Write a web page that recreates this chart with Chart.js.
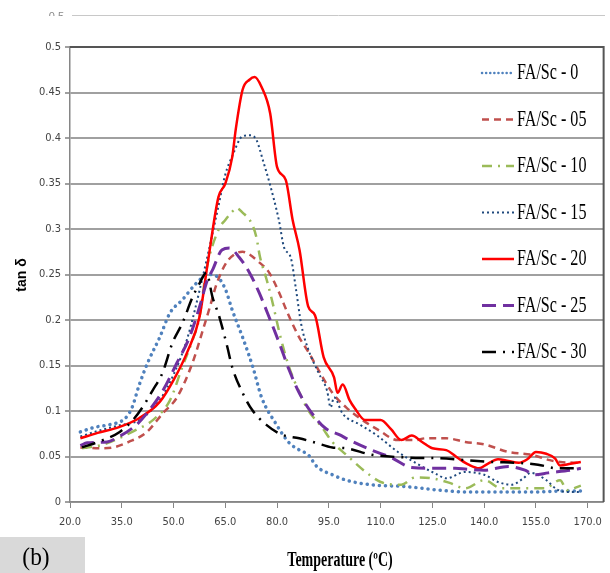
<!DOCTYPE html>
<html>
<head>
<meta charset="utf-8">
<script src="https://cdn.jsdelivr.net/npm/chart.js@4.4.1/dist/chart.umd.min.js"></script>
<style>
  html, body { margin: 0; padding: 0; background: #ffffff; }
</style>
</head>
<body>
<canvas id="dmaChart" width="610" height="573"></canvas>
<script>
// tick labels
const xTicks = [20, 35, 50, 65, 80, 95, 110, 125, 140, 155, 170];
const seriesNames = ["FA/Sc - 0", "FA/Sc - 05", "FA/Sc - 10", "FA/Sc - 15", "FA/Sc - 20", "FA/Sc - 25", "FA/Sc - 30"];

// FA/Sc - 0
const temps0 = [23, 27, 31.5, 36, 38, 40, 42.5, 46, 49, 52.5, 56.5, 60, 62.5, 65, 67, 70, 73, 75.5, 79.5, 83.5, 86.5, 89, 91.5, 96, 100, 107, 117, 127, 135, 145, 155, 162, 168];
const tan0 = [0.077, 0.082, 0.085, 0.092, 0.104, 0.128, 0.153, 0.181, 0.208, 0.222, 0.240, 0.250, 0.248, 0.234, 0.211, 0.181, 0.148, 0.115, 0.087, 0.065, 0.057, 0.052, 0.039, 0.030, 0.024, 0.019, 0.017, 0.013, 0.011, 0.011, 0.011, 0.012, 0.012];

// FA/Sc - 05
const temps05 = [23, 28.5, 32.5, 37, 42, 47, 51, 55.5, 58.5, 60.5, 62.5, 65.3, 68, 70, 72, 74, 77.7, 80.6, 83, 86.4, 89.2, 92, 96, 100, 104, 109.4, 115, 120, 123, 129, 134.5, 140.3, 147, 153.6, 159, 162, 168];
const tan05 = [0.060, 0.059, 0.060, 0.066, 0.076, 0.098, 0.115, 0.153, 0.189, 0.214, 0.240, 0.263, 0.273, 0.275, 0.272, 0.266, 0.252, 0.230, 0.208, 0.181, 0.164, 0.145, 0.120, 0.104, 0.092, 0.079, 0.068, 0.068, 0.070, 0.070, 0.066, 0.063, 0.055, 0.052, 0.046, 0.044, 0.043];

// FA/Sc - 10
const temps10 = [23.5, 29.5, 33, 39, 44, 49, 52.5, 55.5, 57.5, 59.5, 63, 65, 67, 68.2, 70, 72.5, 74, 75, 77, 78.5, 81, 83.5, 86.5, 89, 93, 96, 100, 106, 110, 116, 120, 125, 130, 134.5, 140, 145, 150, 157.5, 162, 164, 168];
const tan10 = [0.059, 0.063, 0.068, 0.079, 0.090, 0.112, 0.148, 0.178, 0.203, 0.255, 0.299, 0.310, 0.319, 0.323, 0.318, 0.307, 0.291, 0.270, 0.244, 0.222, 0.181, 0.148, 0.120, 0.101, 0.082, 0.066, 0.052, 0.032, 0.022, 0.019, 0.027, 0.026, 0.021, 0.015, 0.024, 0.015, 0.015, 0.015, 0.024, 0.013, 0.018];

// FA/Sc - 15
const temps15 = [23, 28, 34, 40, 46, 50, 54, 58, 61, 63, 65, 67, 70, 72, 74, 76, 78, 80.5, 82, 84, 85.5, 87, 89, 92, 94.5, 95.5, 96.5, 99, 104, 109, 115, 121, 126, 129, 134.5, 140, 144, 148, 151, 153.5, 158, 161, 164, 168];
const tan15 = [0.072, 0.078, 0.084, 0.090, 0.112, 0.140, 0.180, 0.240, 0.290, 0.325, 0.360, 0.380, 0.402, 0.403, 0.398, 0.374, 0.348, 0.310, 0.280, 0.268, 0.233, 0.195, 0.168, 0.142, 0.122, 0.104, 0.115, 0.097, 0.085, 0.073, 0.055, 0.041, 0.031, 0.026, 0.033, 0.030, 0.022, 0.019, 0.025, 0.032, 0.024, 0.014, 0.011, 0.011];

// FA/Sc - 20
const temps20 = [23, 28, 34, 40, 46, 50, 54, 57.5, 60, 63, 65, 67, 68, 70, 72, 73.5, 75.5, 78, 80, 82.5, 84.5, 86.5, 89, 91, 93.5, 96.5, 97.5, 99, 101, 102.5, 105.5, 110, 113, 116, 119, 122, 125, 129, 132.5, 135.5, 138.5, 141, 144, 147, 150, 152.5, 155, 158, 160.5, 162, 165, 168];
const tan20 = [0.070, 0.076, 0.082, 0.092, 0.110, 0.134, 0.165, 0.203, 0.265, 0.335, 0.350, 0.379, 0.409, 0.453, 0.464, 0.467, 0.456, 0.427, 0.368, 0.354, 0.310, 0.277, 0.215, 0.205, 0.159, 0.137, 0.120, 0.129, 0.112, 0.103, 0.090, 0.090, 0.080, 0.068, 0.073, 0.066, 0.059, 0.057, 0.048, 0.041, 0.037, 0.042, 0.047, 0.045, 0.043, 0.047, 0.055, 0.053, 0.048, 0.040, 0.042, 0.044];

// FA/Sc - 25
const temps25 = [23, 25, 30.7, 33.8, 39.3, 43, 47, 51, 54.6, 57.5, 59.8, 61.3, 64, 66.2, 69, 72, 74.8, 77.7, 80.6, 83.5, 86.4, 90, 94, 98, 101, 107.4, 113, 119, 126, 131.6, 135, 140, 147, 151.8, 154.7, 158.5, 165, 168];
const tan25 = [0.062, 0.065, 0.066, 0.071, 0.085, 0.101, 0.123, 0.153, 0.181, 0.214, 0.244, 0.255, 0.277, 0.279, 0.269, 0.252, 0.230, 0.203, 0.175, 0.145, 0.120, 0.098, 0.081, 0.074, 0.068, 0.057, 0.049, 0.038, 0.037, 0.037, 0.036, 0.035, 0.039, 0.035, 0.030, 0.032, 0.035, 0.037];

// FA/Sc - 30
const temps30 = [23.5, 29.5, 34.4, 38.2, 41, 44, 46.8, 49.7, 52.6, 55.5, 57.5, 59.5, 61.3, 63.3, 65.6, 67, 70, 72.8, 76.8, 81.4, 86.4, 91.3, 96, 100, 107.4, 117, 127, 134.5, 142, 150, 155.6, 161.3, 168];
const tan30 = [0.060, 0.068, 0.077, 0.090, 0.104, 0.123, 0.142, 0.175, 0.197, 0.225, 0.240, 0.252, 0.225, 0.203, 0.170, 0.148, 0.120, 0.101, 0.085, 0.074, 0.070, 0.065, 0.060, 0.059, 0.052, 0.049, 0.048, 0.046, 0.044, 0.043, 0.041, 0.037, 0.037];

function toPoints(xs, ys) {
  return xs.map((x, i) => ({ x: x, y: ys[i] }));
}

const styles = [
  { color: "#4f81bd", width: 3.5, dash: [0.1, 6], cap: "round" },
  { color: "#c0504d", width: 2.5, dash: [7, 5], cap: "butt" },
  { color: "#9bbb59", width: 2.5, dash: [10, 6, 2, 6], cap: "butt" },
  { color: "#1f497d", width: 2, dash: [2, 3], cap: "butt" },
  { color: "#ff0000", width: 2.5, dash: [], cap: "butt" },
  { color: "#7030a0", width: 3, dash: [14, 7], cap: "butt" },
  { color: "#000000", width: 2.5, dash: [14, 7, 2, 7], cap: "butt" },
];

const seriesData = [
  toPoints(temps0, tan0),
  toPoints(temps05, tan05),
  toPoints(temps10, tan10),
  toPoints(temps15, tan15),
  toPoints(temps20, tan20),
  toPoints(temps25, tan25),
  toPoints(temps30, tan30),
];

const datasets = seriesData.map((pts, i) => ({
  label: seriesNames[i],
  data: pts,
  borderColor: styles[i].color,
  backgroundColor: styles[i].color,
  borderWidth: styles[i].width,
  borderDash: styles[i].dash,
  borderCapStyle: styles[i].cap,
  pointRadius: 0,
  fill: false,
  cubicInterpolationMode: "monotone",
  order: 7 - i,
}));

function drawNarrow(ctx, text, x, y, font, sx, align) {
  ctx.save();
  ctx.translate(x, y);
  ctx.scale(sx, 1);
  ctx.font = font;
  ctx.textAlign = align;
  ctx.textBaseline = "middle";
  ctx.fillText(text, 0, 0);
  ctx.restore();
}

const legendY = [73, 119.5, 166, 212.5, 259, 305.5, 352];

const decorations = {
  id: "decorations",
  afterDraw: (chart) => {
    const { ctx, chartArea } = chart;
    ctx.save();

    // plot frame, top and right
    ctx.strokeStyle = "#555555";
    ctx.lineWidth = 2;
    ctx.beginPath();
    ctx.moveTo(chartArea.left, chartArea.top);
    ctx.lineTo(chartArea.right, chartArea.top);
    ctx.lineTo(chartArea.right, chartArea.bottom);
    ctx.stroke();

    // legend inside the plot
    chart.data.datasets.forEach((ds, i) => {
      const y = legendY[i];
      ctx.save();
      ctx.strokeStyle = ds.borderColor;
      ctx.lineWidth = i === 0 ? 2.5 : ds.borderWidth;
      ctx.setLineDash(i === 0 ? [0.1, 4] : ds.borderDash);
      ctx.lineCap = ds.borderCapStyle;
      ctx.beginPath();
      ctx.moveTo(482, y);
      ctx.lineTo(514, y);
      ctx.stroke();
      ctx.restore();
      ctx.fillStyle = "#000000";
      drawNarrow(ctx, ds.label, 517, y, '23px "Liberation Serif"', 0.7, "left");
    });

    // axis titles
    ctx.fillStyle = "#000000";
    drawNarrow(ctx, "Temperature (ºC)", 340, 561, 'bold 20px "Liberation Serif"', 0.7, "center");
    ctx.save();
    ctx.translate(22, 275);
    ctx.rotate(-Math.PI / 2);
    ctx.font = 'bold 14px "Liberation Sans"';
    ctx.textAlign = "center";
    ctx.textBaseline = "middle";
    ctx.fillText("tan δ", 0, 0);
    ctx.restore();

    // panel label
    ctx.fillStyle = "#d9d9d9";
    ctx.fillRect(0, 537, 85, 36);
    ctx.fillStyle = "#000000";
    drawNarrow(ctx, "(b)", 36, 558, '26px "Liberation Serif"', 0.9, "center");

    // cropped remnant at the very top
    ctx.strokeStyle = "#c8c8c8";
    ctx.lineWidth = 1;
    ctx.beginPath();
    ctx.moveTo(72, 15.5);
    ctx.lineTo(605, 15.5);
    ctx.stroke();
    ctx.beginPath();
    ctx.rect(0, 10, 70, 6);
    ctx.clip();
    ctx.fillStyle = "#8a8a8a";
    ctx.font = '11px "Liberation Sans"';
    ctx.textAlign = "right";
    ctx.textBaseline = "alphabetic";
    ctx.fillText("0.5", 64, 20);

    ctx.restore();
  },
};

const tickFont = { family: '"Liberation Sans Narrow", "DejaVu Sans Condensed", sans-serif', size: 11 };

new Chart(document.getElementById("dmaChart").getContext("2d"), {
  type: "line",
  data: { datasets: datasets },
  options: {
    responsive: false,
    animation: false,
    layout: { padding: { left: 0, top: 47, right: 3, bottom: 0 } },
    scales: {
      x: {
        type: "linear",
        min: 20,
        max: 174.6,
        afterBuildTicks: (scale) => {
          scale.ticks = xTicks.map((v) => ({ value: v }));
        },
        afterFit: (scale) => {
          scale.height = 71;
        },
        grid: {
          display: true,
          drawOnChartArea: false,
          drawTicks: true,
          tickLength: 6,
          color: "#868686",
        },
        border: { display: true, color: "#868686", width: 1.5 },
        ticks: {
          color: "#444444",
          font: tickFont,
          padding: 8,
          maxRotation: 0,
          autoSkip: false,
          callback: (v) => Number(v).toFixed(1),
        },
      },
      y: {
        min: 0,
        max: 0.5,
        afterFit: (scale) => {
          scale.width = 70;
        },
        grid: {
          color: "#a0a0a0",
          lineWidth: 2,
          tickLength: 5,
        },
        border: { display: true, color: "#868686", width: 1.5 },
        ticks: {
          stepSize: 0.05,
          color: "#444444",
          font: tickFont,
          padding: 4,
          callback: (v) => String(Number(v.toFixed(2))),
        },
      },
    },
    plugins: {
      legend: { display: false },
      tooltip: { enabled: false },
    },
  },
  plugins: [decorations],
});
</script>
</body>
</html>
